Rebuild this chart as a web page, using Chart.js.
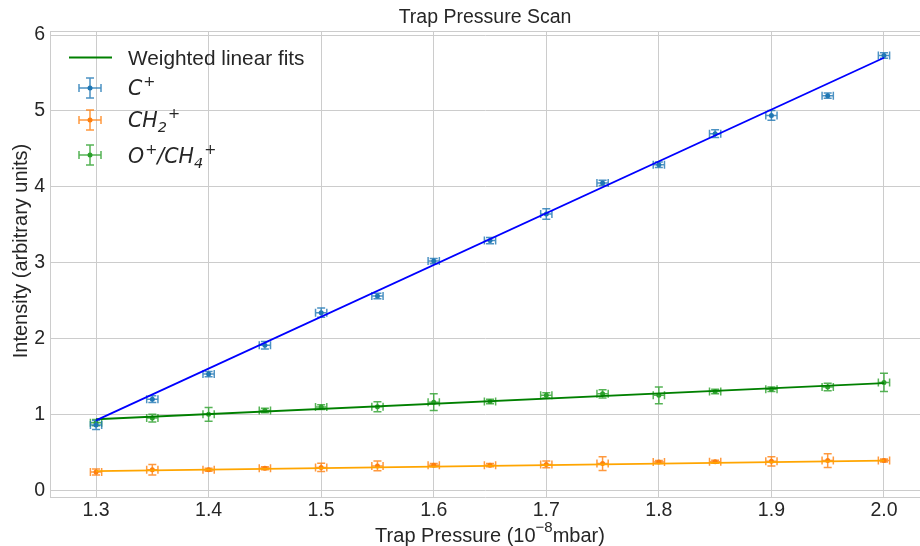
<!DOCTYPE html>
<html><head><meta charset="utf-8">
<script src="https://cdn.jsdelivr.net/npm/chart.js@4/dist/chart.umd.min.js"></script>
<style>html,body{margin:0;padding:0;background:#fff;overflow:hidden}#wrap{width:920px;height:546px;position:relative}#c{display:block;width:920px;height:546px}</style>
</head><body><div id="wrap"><canvas id="c" width="920" height="546" style="width:920px;height:546px"></canvas></div>
<script>
// ---- data ----
const pressures   = [1.30,1.35,1.40,1.45,1.50,1.55,1.60,1.65,1.70,1.75,1.80,1.85,1.90,1.95,2.00];
const pressureErr = [0.005,0.005,0.005,0.005,0.005,0.005,0.005,0.005,0.005,0.005,0.005,0.005,0.005,0.005,0.005];
const cPlus       = [0.86,1.20,1.53,1.91,2.34,2.56,3.02,3.29,3.64,4.05,4.29,4.70,4.94,5.20,5.73];
const cPlusErr    = [0.06,0.045,0.035,0.05,0.06,0.035,0.035,0.04,0.07,0.035,0.035,0.05,0.065,0.035,0.035];
const ch2Plus     = [0.24,0.27,0.27,0.29,0.30,0.32,0.33,0.33,0.34,0.35,0.37,0.375,0.38,0.39,0.39];
const ch2PlusErr  = [0.04,0.07,0.02,0.02,0.055,0.065,0.02,0.02,0.045,0.09,0.02,0.02,0.06,0.09,0.02];
const oPlus       = [0.89,0.95,1.00,1.05,1.095,1.10,1.16,1.17,1.25,1.27,1.25,1.30,1.33,1.36,1.42];
const oPlusErr    = [0.04,0.05,0.09,0.03,0.03,0.065,0.11,0.03,0.035,0.055,0.11,0.03,0.03,0.05,0.12];
const fitX   = [1.30, 2.00];
const fitC   = [0.92, 5.70];
const fitCH2 = [0.25, 0.39];
const fitO   = [0.935, 1.41];
const xTicks = [1.3,1.4,1.5,1.6,1.7,1.8,1.9,2.0];
const yTicks = [0,1,2,3,4,5,6];
const titleText = 'Trap Pressure Scan';
const yLabel = 'Intensity (arbitrary units)';
const fitLabel = 'Weighted linear fits';

const TXT = '#262626', GRID = '#cccccc';
const SANS = '"Liberation Sans", Arial, sans-serif';
const MATH = '"DejaVu Sans", sans-serif';

function pts(xs, ys){ return xs.map((x,i)=>({x:x, y:ys[i]})); }

const errPlugin = {
  id:'errbars',
  beforeDatasetDraw(chart, args){
    const ds = chart.data.datasets[args.index];
    if(!ds.errY) return;
    const ctx = chart.ctx, xs = chart.scales.x, ys = chart.scales.y, a = chart.chartArea;
    ctx.save();
    ctx.beginPath(); ctx.rect(a.left, a.top, a.right-a.left, a.bottom-a.top); ctx.clip();
    ctx.strokeStyle = ds.errColor; ctx.lineWidth = 1.5;
    ds.data.forEach((p,i)=>{
      const px = xs.getPixelForValue(p.x), py = ys.getPixelForValue(p.y);
      const y1 = ys.getPixelForValue(p.y - ds.errY[i]), y2 = ys.getPixelForValue(p.y + ds.errY[i]);
      const x1 = xs.getPixelForValue(p.x - ds.errX[i]), x2 = xs.getPixelForValue(p.x + ds.errX[i]);
      const cap = 4;
      ctx.beginPath();
      ctx.moveTo(px, y1); ctx.lineTo(px, y2);
      ctx.moveTo(x1, py); ctx.lineTo(x2, py);
      ctx.moveTo(px-cap, y1); ctx.lineTo(px+cap, y1);
      ctx.moveTo(px-cap, y2); ctx.lineTo(px+cap, y2);
      ctx.moveTo(x1, py-cap); ctx.lineTo(x1, py+cap);
      ctx.moveTo(x2, py-cap); ctx.lineTo(x2, py+cap);
      ctx.stroke();
    });
    ctx.restore();
  }
};

function legendMarker(ctx, x, y, col, dot){
  ctx.save(); ctx.strokeStyle = col; ctx.lineWidth = 1.5;
  ctx.beginPath();
  ctx.moveTo(x, y-10); ctx.lineTo(x, y+10);
  ctx.moveTo(x-11, y); ctx.lineTo(x+11, y);
  ctx.moveTo(x-4, y-10); ctx.lineTo(x+4, y-10);
  ctx.moveTo(x-4, y+10); ctx.lineTo(x+4, y+10);
  ctx.moveTo(x-11, y-4); ctx.lineTo(x-11, y+4);
  ctx.moveTo(x+11, y-4); ctx.lineTo(x+11, y+4);
  ctx.stroke();
  ctx.fillStyle = dot; ctx.beginPath(); ctx.arc(x, y, 2.5, 0, Math.PI*2); ctx.fill();
  ctx.restore();
}
// draw a sequence of math pieces: {t, it, sup, sub, stack}
function drawMath(ctx, pieces, x, base){
  let cx = x, lastBaseX = x;
  pieces.forEach(p=>{
    let size = 20.5, dy = 0;
    if(p.sup){ size = 14.5; dy = -9; }
    if(p.sub){ size = 14.5; dy = 5; }
    ctx.font = (p.it ? 'italic ' : '') + size + 'px ' + MATH;
    let px = p.stack ? lastBaseX : cx;
    if(p.sup) px += 1;
    ctx.fillText(p.t, px, base + dy);
    const w = ctx.measureText(p.t).width;
    if(p.stack){ cx = Math.max(cx, px + w); }
    else { lastBaseX = px + w; cx = px + w; }
  });
}

const textPlugin = {
  id:'texts',
  afterDraw(chart){
    const ctx = chart.ctx, a = chart.chartArea;
    ctx.save();
    // top spine
    ctx.strokeStyle = GRID; ctx.lineWidth = 1;
    ctx.beginPath(); ctx.moveTo(a.left, a.top+0.5); ctx.lineTo(a.right, a.top+0.5); ctx.stroke();
    ctx.fillStyle = TXT; ctx.textBaseline = 'alphabetic';
    // title
    ctx.font = '19.5px ' + SANS; ctx.textAlign = 'center';
    ctx.fillText(titleText, 485, 23);
    // x label with superscript
    ctx.textAlign = 'left';
    const f1 = '20px ' + SANS, f2 = '15px ' + SANS;
    const s1 = 'Trap Pressure (10', s2 = '\u22128', s3 = 'mbar)';
    ctx.font = f1; const w1 = ctx.measureText(s1).width, w3 = ctx.measureText(s3).width;
    ctx.font = f2; const w2 = ctx.measureText(s2).width;
    let sx = 490 - (w1+w2+w3)/2;
    ctx.font = f1; ctx.fillText(s1, sx, 541.5);
    ctx.font = f2; ctx.fillText(s2, sx + w1, 532);
    ctx.font = f1; ctx.fillText(s3, sx + w1 + w2, 541.5);
    // y label
    ctx.save(); ctx.translate(26.5, 251); ctx.rotate(-Math.PI/2);
    ctx.textAlign = 'center'; ctx.font = '20px ' + SANS; ctx.fillText(yLabel, 0, 0);
    ctx.restore();
    // legend
    ctx.strokeStyle = '#008000'; ctx.lineWidth = 1.8;
    ctx.beginPath(); ctx.moveTo(69, 57.5); ctx.lineTo(112, 57.5); ctx.stroke();
    ctx.font = '20.8px ' + SANS; ctx.textAlign = 'left';
    ctx.fillText(fitLabel, 128, 64.5);
    legendMarker(ctx, 90, 88, 'rgba(31,119,180,0.8)', '#1f77b4');
    legendMarker(ctx, 90, 120, 'rgba(255,127,14,0.8)', '#ff7f0e');
    legendMarker(ctx, 90, 155, 'rgba(44,160,44,0.8)', '#2ca02c');
    ctx.fillStyle = TXT;
    drawMath(ctx, [{t:'C', it:true}, {t:'+', sup:true}], 128, 95);
    drawMath(ctx, [{t:'CH', it:true}, {t:'2', sub:true, it:true}, {t:'+', sup:true, stack:true}], 128, 127);
    drawMath(ctx, [{t:'O', it:true}, {t:'+', sup:true}, {t:'/', it:true}, {t:'CH', it:true}, {t:'4', sub:true, it:true}, {t:'+', sup:true, stack:true}], 128, 163);
    ctx.restore();
  }
};

function noPad(s){ s.paddingLeft = 0; s.paddingRight = 0; s.paddingTop = 0; s.paddingBottom = 0; }

new Chart(document.getElementById('c'), {
  type:'scatter',
  data:{ datasets:[
    {type:'line', data:pts(fitX, fitC), borderColor:'#0000ff', borderWidth:1.8, pointRadius:0, order:0},
    {type:'line', data:pts(fitX, fitCH2), borderColor:'#ffa500', borderWidth:1.8, pointRadius:0, order:0},
    {type:'line', data:pts(fitX, fitO), borderColor:'#008000', borderWidth:1.8, pointRadius:0, order:0},
    {data:pts(pressures, cPlus), errY:cPlusErr, errX:pressureErr, errColor:'rgba(31,119,180,0.8)', backgroundColor:'#1f77b4', borderWidth:0, pointRadius:2.5, order:1},
    {data:pts(pressures, ch2Plus), errY:ch2PlusErr, errX:pressureErr, errColor:'rgba(255,127,14,0.8)', backgroundColor:'#ff7f0e', borderWidth:0, pointRadius:2.5, order:1},
    {data:pts(pressures, oPlus), errY:oPlusErr, errX:pressureErr, errColor:'rgba(44,160,44,0.8)', backgroundColor:'#2ca02c', borderWidth:0, pointRadius:2.5, order:1}
  ]},
  options:{
    responsive:false, animation:false, devicePixelRatio:1,
    layout:{autoPadding:false, padding:{top:31, left:0, right:0, bottom:0}},
    plugins:{legend:{display:false}, tooltip:{enabled:false}, title:{display:false}},
    scales:{
      x:{type:'linear', min:1.2591, max:2.032,
         afterBuildTicks(s){ s.ticks = xTicks.map(v=>({value:v})); },
         afterFit(s){ s.height = 49; noPad(s); },
         grid:{color:GRID, lineWidth:1, drawTicks:false},
         border:{display:true, color:GRID, width:1},
         ticks:{color:TXT, font:{family:SANS, size:19.5}, padding:2, maxRotation:0, callback:v=>Number(v).toFixed(1)}},
      y:{type:'linear', min:-0.09, max:6.053,
         afterBuildTicks(s){ s.ticks = yTicks.map(v=>({value:v})); },
         afterFit(s){ s.width = 50; noPad(s); },
         grid:{color:GRID, lineWidth:1, drawTicks:false},
         border:{display:true, color:GRID, width:1},
         ticks:{color:TXT, font:{family:SANS, size:19.5}, padding:5, callback:v=>String(v)}}
    }
  },
  plugins:[errPlugin, textPlugin]
});
</script></body></html>
